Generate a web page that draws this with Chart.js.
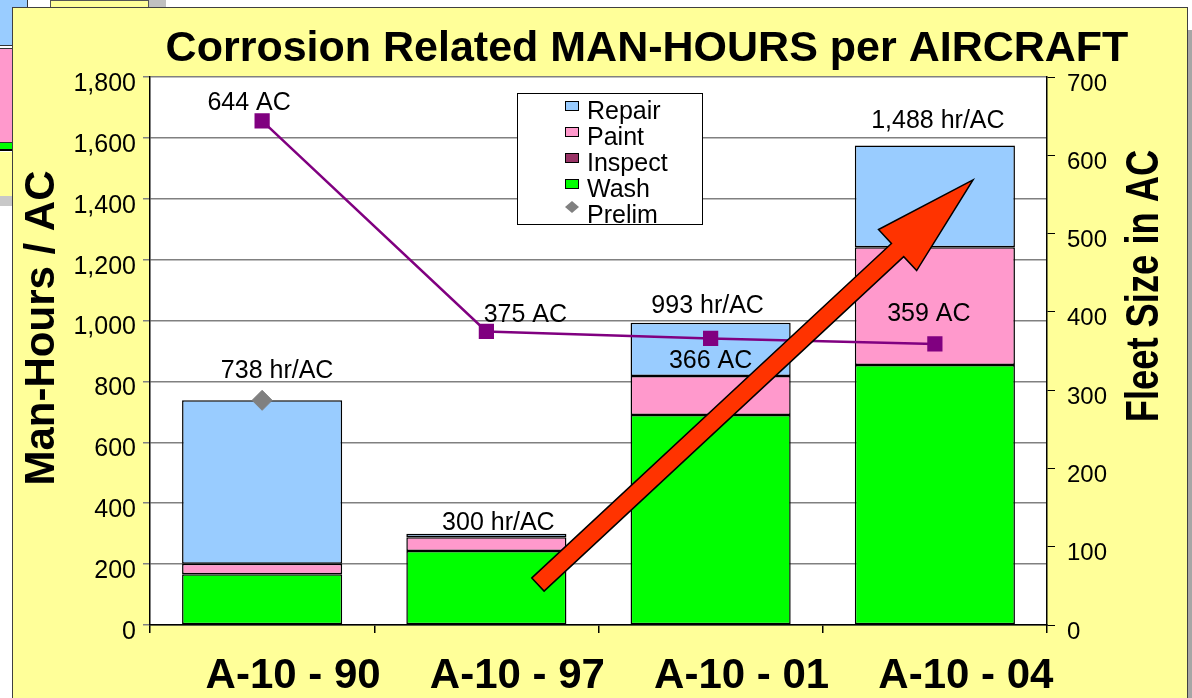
<!DOCTYPE html>
<html>
<head>
<meta charset="utf-8">
<script src="https://cdn.jsdelivr.net/npm/chart.js@4.4.1/dist/chart.umd.min.js"></script>
<style>
    body { margin: 0; width: 1192px; height: 698px; overflow: hidden; background: #fff; position: relative; }
    .bg { position: absolute; box-sizing: border-box; }
    #panel { position: absolute; left: 12px; top: 7px; width: 1176px; height: 700px; background: #FFFF99; border: 1px solid #404040; box-sizing: border-box; }
    #chart { position: absolute; left: 0; top: 0; }
</style>
</head>
<body>
<!-- bits of the slide behind the chart panel -->
<div class="bg" style="left:0;top:0;width:28px;height:46px;background:#99CCFF;border-right:1px solid #333;border-bottom:1px solid #333;"></div>
<div class="bg" style="left:50px;top:0;width:99px;height:8px;background:#FFFF99;border:1px solid #555;"></div>
<div class="bg" style="left:149px;top:0;width:17px;height:8px;background:#C0C0C0;"></div>
<div class="bg" style="left:0;top:48px;width:12px;height:95px;background:#FF99CC;border-top:1px solid #333;border-bottom:1px solid #333;"></div>
<div class="bg" style="left:0;top:143px;width:12px;height:8px;background:#00FF00;border-bottom:2px solid #000;"></div>
<div class="bg" style="left:0;top:152px;width:12px;height:44px;background:#FFFF99;"></div>
<div class="bg" style="left:0;top:196px;width:12px;height:10px;background:#C8C8C8;"></div>
<div class="bg" style="left:1188px;top:30px;width:4px;height:668px;background:#A6A6A6;"></div>
<div id="panel"></div>
<canvas id="chart" width="1192" height="698"></canvas>

<script>
// Chart data
const categories = ['A-10 - 90', 'A-10 - 97', 'A-10 - 01', 'A-10 - 04'];
const washHours = [167, 243, 690, 854];
const inspectHours = [0, 0, 0, 0];
const paintHours = [34, 45, 128, 387];
const repairHours = [537, 12, 175, 334];
const prelimHours = [738, null, null, null];
const fleetSize = [644, 375, 366, 359];
const totalLabels = ['738 hr/AC', '300 hr/AC', '993 hr/AC', '1,488 hr/AC'];
const fleetLabels = ['644 AC', '375 AC', '366 AC', '359 AC'];
const hoursAxis = { min: 0, max: 1800, step: 200 };
const fleetAxis = { min: 0, max: 700, step: 100 };

// where the red trend arrow starts and ends (category index, man-hours)
const arrowFrom = [1.23, 133];
const arrowTo = [3.17, 1462];

// nudges for the text boxes (px from bar top / line point)
const totalLabelShift = [[15, -29], [12, -11], [-3, -17], [3, -24]];
const fleetLabelShift = [[-13, -18], [39, -16], [0, 23], [-6, -30]];

const FONT = "'Liberation Sans', Arial, sans-serif";
Chart.defaults.font.family = FONT;
Chart.defaults.color = '#000';

const repairColor = '#99CCFF';
const paintColor = '#FF99CC';
const inspectColor = '#993366';
const washColor = '#00FF00';
const prelimColor = '#808080';
const fleetColor = '#800080';

function drawText(ctx, text, x, y, font, rotate, squeeze) {
    ctx.save();
    ctx.translate(x, y);
    if (rotate) ctx.rotate(-Math.PI / 2);
    if (squeeze) ctx.scale(squeeze, 1);
    ctx.font = font;
    ctx.fillStyle = '#000';
    ctx.textAlign = 'center';
    ctx.textBaseline = 'middle';
    ctx.fillText(text, 0, 0);
    ctx.restore();
}

// Labels, arrow, legend box and titles
const decorPlugin = {
    id: 'decor',
    beforeDraw(chart) {
        // white plot area
        const a = chart.chartArea;
        chart.ctx.save();
        chart.ctx.fillStyle = '#fff';
        chart.ctx.fillRect(a.left, a.top, a.right - a.left, a.bottom - a.top);
        chart.ctx.restore();
    },
    afterDatasetsDraw(chart) {
        const ctx = chart.ctx;
        const xs = chart.scales.x;
        const ys = chart.scales.y;
        const ys1 = chart.scales.y1;

        // total hr/AC labels above each stack
        categories.forEach((c, i) => {
            const total = washHours[i] + inspectHours[i] + paintHours[i] + repairHours[i];
            const x = xs.getPixelForValue(i) + totalLabelShift[i][0];
            const y = ys.getPixelForValue(total) + totalLabelShift[i][1];
            drawText(ctx, totalLabels[i], x, y, '25px ' + FONT);
        });

        // fleet size labels
        fleetSize.forEach((v, i) => {
            const x = xs.getPixelForValue(i) + fleetLabelShift[i][0];
            const y = ys1.getPixelForValue(v) + fleetLabelShift[i][1];
            drawText(ctx, fleetLabels[i], x, y, '25px ' + FONT);
        });

        // red arrow
        const x0 = xs.getPixelForValue(arrowFrom[0]), y0 = ys.getPixelForValue(arrowFrom[1]);
        const x1 = xs.getPixelForValue(arrowTo[0]), y1 = ys.getPixelForValue(arrowTo[1]);
        const len = Math.hypot(x1 - x0, y1 - y0);
        const shaft = 9, head = 28, headLen = 103;
        ctx.save();
        ctx.translate(x0, y0);
        ctx.rotate(Math.atan2(y1 - y0, x1 - x0));
        ctx.beginPath();
        ctx.moveTo(0, -shaft);
        ctx.lineTo(len - headLen, -shaft);
        ctx.lineTo(len - headLen, -head);
        ctx.lineTo(len, 0);
        ctx.lineTo(len - headLen, head);
        ctx.lineTo(len - headLen, shaft);
        ctx.lineTo(0, shaft);
        ctx.closePath();
        ctx.fillStyle = '#FF3300';
        ctx.fill();
        ctx.lineWidth = 1.5;
        ctx.strokeStyle = '#000';
        ctx.stroke();
        ctx.restore();
    },
    afterDraw(chart) {
        const ctx = chart.ctx;

        // legend box
        const box = { x: 517.5, y: 93.5, w: 185, h: 131 };
        ctx.save();
        ctx.fillStyle = '#fff';
        ctx.fillRect(box.x, box.y, box.w, box.h);
        ctx.beginPath();
        ctx.rect(box.x, box.y, box.w, box.h);
        ctx.clip();
        const entries = [
            { label: 'Repair', color: repairColor },
            { label: 'Paint', color: paintColor },
            { label: 'Inspect', color: inspectColor },
            { label: 'Wash', color: washColor },
            { label: 'Prelim', color: prelimColor, diamond: true }
        ];
        entries.forEach((e, i) => {
            const rowY = 112 + i * 26;
            ctx.fillStyle = e.color;
            ctx.strokeStyle = '#000';
            ctx.lineWidth = 1;
            if (e.diamond) {
                ctx.beginPath();
                ctx.moveTo(572, rowY - 15);
                ctx.lineTo(579, rowY - 9);
                ctx.lineTo(572, rowY - 3);
                ctx.lineTo(565, rowY - 9);
                ctx.closePath();
                ctx.fill();
            } else {
                ctx.fillRect(565.5, rowY - 10.5, 13, 9);
                ctx.strokeRect(565.5, rowY - 10.5, 13, 9);
            }
            ctx.fillStyle = '#000';
            ctx.font = '25px ' + FONT;
            ctx.textAlign = 'left';
            ctx.textBaseline = 'middle';
            ctx.fillText(e.label, 587, rowY);
        });
        ctx.restore();
        ctx.strokeStyle = '#000';
        ctx.lineWidth = 1;
        ctx.strokeRect(box.x, box.y, box.w, box.h);

        // titles
        drawText(ctx, 'Corrosion Related MAN-HOURS per AIRCRAFT', 647, 49, 'bold 43px ' + FONT);
        drawText(ctx, 'Man-Hours / AC', 42, 328, 'bold 42px ' + FONT, true);
        drawText(ctx, 'Fleet Size in AC', 1145, 286, 'bold 46px ' + FONT, true, 0.79);
    }
};

const chartCtx = document.getElementById('chart').getContext('2d');
new Chart(chartCtx, {
    type: 'bar',
    data: {
        labels: categories,
        datasets: [
            {
                label: 'Prelim',
                type: 'line',
                data: prelimHours,
                yAxisID: 'y',
                stack: 'prelim',
                showLine: false,
                pointStyle: 'rectRot',
                pointRadius: 10,
                pointBackgroundColor: prelimColor,
                pointBorderColor: prelimColor,
                order: 0
            },
            {
                label: 'Fleet Size',
                type: 'line',
                data: fleetSize,
                yAxisID: 'y1',
                borderColor: fleetColor,
                borderWidth: 2.5,
                pointStyle: 'rect',
                pointRadius: 9,
                pointBackgroundColor: fleetColor,
                pointBorderColor: fleetColor,
                order: 1
            },
            { label: 'Wash', data: washHours, backgroundColor: washColor, borderColor: '#000', borderWidth: 1.5, order: 2 },
            { label: 'Inspect', data: inspectHours, backgroundColor: inspectColor, borderColor: '#000', borderWidth: 0, order: 2 },
            { label: 'Paint', data: paintHours, backgroundColor: paintColor, borderColor: '#000', borderWidth: 1.5, order: 2 },
            { label: 'Repair', data: repairHours, backgroundColor: repairColor, borderColor: '#000', borderWidth: 1.5, order: 2 }
        ]
    },
    options: {
        responsive: false,
        animation: false,
        layout: { padding: { top: 77, left: 0, right: 0, bottom: 0 } },
        datasets: {
            bar: { categoryPercentage: 1, barPercentage: 0.714, borderSkipped: false }
        },
        scales: {
            x: {
                stacked: true,
                grid: { drawOnChartArea: false, tickLength: 8, color: '#000', lineWidth: 1.5 },
                border: { color: '#000', width: 1.5 },
                ticks: { font: { size: 42, weight: 'bold' }, color: '#000', padding: 18, labelOffset: 31 },
                afterFit: (scale) => { scale.height = 73; }
            },
            y: {
                stacked: true,
                min: hoursAxis.min,
                max: hoursAxis.max,
                ticks: { stepSize: hoursAxis.step, font: { size: 25 }, color: '#000', padding: 7, labelOffset: 7 },
                grid: { color: '#808080', lineWidth: 1.5, tickLength: 7 },
                border: { color: '#000', width: 1.5 },
                afterFit: (scale) => { scale.width = 150; }
            },
            y1: {
                position: 'right',
                min: fleetAxis.min,
                max: fleetAxis.max,
                ticks: { stepSize: fleetAxis.step, font: { size: 24 }, color: '#000', padding: 12, labelOffset: 7 },
                grid: { drawOnChartArea: false, tickLength: 8, color: '#000' },
                border: { color: '#000', width: 1.5 },
                afterFit: (scale) => { scale.width = 145; }
            }
        },
        plugins: {
            legend: { display: false },
            tooltip: { enabled: false },
            title: { display: false }
        }
    },
    plugins: [decorPlugin]
});
</script>
</body>
</html>
